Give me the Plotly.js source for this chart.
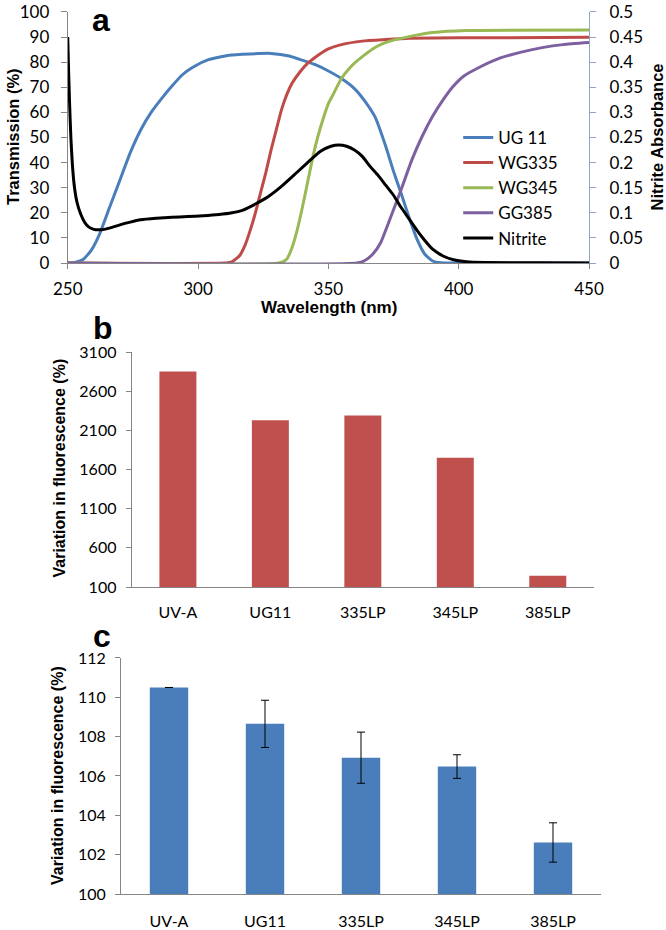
<!DOCTYPE html>
<html>
<head>
<meta charset="utf-8">
<script src="https://cdn.plot.ly/plotly-3.0.1.min.js"></script>
<style>
  body { margin: 0; background: #fff; }
  #chart { width: 666px; height: 930px; }
</style>
</head>
<body>
<div id="chart"></div>
<script>
// panel a: filter transmission (%) vs wavelength (nm)
var ug11Wl = [250, 253, 256, 259, 262, 266, 270, 274, 278, 282, 286, 290, 294, 298, 304, 312, 320, 328, 335, 340, 345, 350, 355, 360, 364, 368, 372, 375, 378, 381, 384, 387, 390, 393, 400, 450];
var ug11T = [0, 0.3, 1.5, 5, 11, 22, 33, 44, 53, 60, 65.5, 70.5, 75, 78, 81, 82.8, 83.3, 83.5, 82.5, 80.8, 79, 76.5, 73.5, 69.5, 64.5, 58, 46.5, 36.5, 27.5, 18, 9.5, 3.5, 0.8, 0.1, 0, 0];

var wg335Wl = [250, 310, 313, 316, 318, 320, 322, 324, 326, 328, 330, 332, 334, 336, 339, 342, 345, 350, 355, 363, 372, 381, 400, 450];
var wg335T = [0, 0, 0.5, 3, 7, 13, 20, 28, 36, 45, 53, 61, 67, 71.5, 76, 79.5, 82, 85.3, 87, 88.4, 89, 89.5, 89.7, 89.9];

var wg345Wl = [250, 331, 334, 336, 338, 340, 342, 344, 346, 348, 350, 352, 355, 358, 361, 364, 367, 370, 374, 381, 390, 403, 450];
var wg345T = [0, 0, 1.5, 6, 13, 22, 32, 42, 50.5, 57.5, 63.5, 67.5, 73.5, 77.5, 80.5, 83, 85.3, 87, 88.5, 90.2, 91.8, 92.6, 92.8];

var gg385Wl = [250, 361, 364, 367, 370, 374, 378, 382, 386, 390, 394, 398, 402, 408, 416, 424, 432, 440, 450];
var gg385T = [0, 0, 1, 3.5, 8, 18.5, 29.5, 41, 50.5, 58.5, 65, 70.5, 74.5, 78, 81.7, 84, 85.8, 87, 87.8];

// nitrite absorbance (right axis)
var nitriteWl = [250, 250.3, 250.7, 251.2, 251.8, 252.6, 253.6, 255, 256.5, 258, 260, 262, 264, 267, 270, 274, 278, 284, 290, 296, 302, 308, 313, 317, 322, 327, 332, 337, 342, 347, 351, 354, 357, 360, 363, 366, 369, 372, 375, 378, 381, 384, 387, 390, 394, 398, 403, 410, 430, 450];
var nitriteA = [0.45, 0.39, 0.32, 0.25, 0.195, 0.15, 0.12, 0.097, 0.081, 0.072, 0.067, 0.066, 0.067, 0.071, 0.076, 0.0815, 0.086, 0.089, 0.091, 0.0925, 0.094, 0.0965, 0.10, 0.105, 0.1175, 0.1325, 0.1525, 0.176, 0.20, 0.2225, 0.2325, 0.235, 0.2325, 0.225, 0.2125, 0.1925, 0.175, 0.155, 0.135, 0.11, 0.0875, 0.065, 0.045, 0.0275, 0.014, 0.0065, 0.0025, 0.001, 0.0005, 0];

// panels b and c
var filters = ['UV-A', 'UG11', '335LP', '345LP', '385LP'];
var fluoB = [2850, 2230, 2290, 1750, 245];
var fluoC = [110.5, 108.65, 106.93, 106.48, 102.62];
var fluoCErr = [0, 1.2, 1.3, 0.6, 1.0];

var tickFont = 'Lato, sans-serif';
var boldFont = '"Liberation Sans", Arial, sans-serif';
var axisGrey = '#868686';

function filterLine(name, x, y, color) {
	return {
		x: x, y: y, name: name,
		type: 'scatter', mode: 'lines',
		xaxis: 'x', yaxis: 'y',
		line: { color: color, width: 3, shape: 'spline', smoothing: 0.5 }
	};
}

// text placed by pixel position from the top-left corner
function label(text, px, py, size, angle) {
	return {
		text: text, x: px / 666, y: 1 - py / 930,
		xref: 'paper', yref: 'paper', xanchor: 'center', yanchor: 'middle',
		showarrow: false, textangle: angle || 0,
		font: { family: boldFont, size: size, color: '#000' }
	};
}

var data = [
	filterLine('UG 11', ug11Wl, ug11T, '#4A7EBB'),
	filterLine('WG335', wg335Wl, wg335T, '#BE4B48'),
	filterLine('WG345', wg345Wl, wg345T, '#98B954'),
	filterLine('GG385', gg385Wl, gg385T, '#7D60A0'),
	{
		x: nitriteWl, y: nitriteA, name: 'Nitrite',
		type: 'scatter', mode: 'lines',
		xaxis: 'x', yaxis: 'y2',
		line: { color: '#000000', width: 3, shape: 'spline', smoothing: 0.5 }
	},
	{
		x: filters, y: fluoB, type: 'bar',
		xaxis: 'x2', yaxis: 'y3', showlegend: false,
		marker: { color: '#C0504D' }
	},
	{
		x: filters, y: fluoC, type: 'bar',
		xaxis: 'x3', yaxis: 'y4', showlegend: false,
		marker: { color: '#4A7EBB' },
		error_y: { type: 'data', array: fluoCErr, visible: true, color: '#000', thickness: 1, width: 4 }
	}
];

var layout = {
	width: 666,
	height: 930,
	margin: { l: 0, r: 0, t: 0, b: 0 },
	paper_bgcolor: '#fff',
	plot_bgcolor: 'rgba(0,0,0,0)',
	font: { family: tickFont, size: 17, color: '#000' },
	bargap: 0.6,
	showlegend: true,
	legend: {
		x: 0.688, y: 0.871, xanchor: 'left', yanchor: 'top',
		bgcolor: 'rgba(0,0,0,0)',
		font: { family: tickFont, size: 17, color: '#000' },
		tracegroupgap: 0
	},
	// panel a
	xaxis: {
		domain: [0.1017, 0.8844], anchor: 'y',
		range: [250, 450], tickvals: [250, 300, 350, 400, 450],
		showgrid: false, zeroline: false,
		showline: true, linecolor: axisGrey, linewidth: 1,
		ticks: 'outside', ticklen: 5, tickcolor: axisGrey,
		ticklabelstandoff: 6,
		tickfont: { family: tickFont, size: 17 }
	},
	yaxis: {
		domain: [0.7172, 0.9871], anchor: 'x',
		range: [0, 100], dtick: 10,
		showgrid: false, zeroline: false,
		showline: true, linecolor: axisGrey, linewidth: 1,
		ticks: 'outside', ticklen: 6, tickcolor: axisGrey,
		ticklabelstandoff: 8,
		tickfont: { family: tickFont, size: 17 }
	},
	yaxis2: {
		overlaying: 'y', side: 'right', anchor: 'x',
		range: [0, 0.5], dtick: 0.05,
		showgrid: false, zeroline: false,
		showline: true, linecolor: '#8EA5C8', linewidth: 1,
		ticks: 'outside', ticklen: 6, tickcolor: '#8EA5C8',
		ticklabelstandoff: 10,
		tickfont: { family: tickFont, size: 17 }
	},
	// panel b
	xaxis2: {
		domain: [0.1977, 0.8919], anchor: 'y3',
		showgrid: false, zeroline: false,
		showline: true, linecolor: axisGrey, linewidth: 1,
		ticks: '', ticklabelstandoff: 11,
		tickfont: { family: tickFont, size: 16 }
	},
	yaxis3: {
		domain: [0.3688, 0.6215], anchor: 'x2',
		range: [100, 3100], tickvals: [100, 600, 1100, 1600, 2100, 2600, 3100],
		showgrid: false, zeroline: false,
		showline: true, linecolor: axisGrey, linewidth: 1,
		ticks: 'outside', ticklen: 5, tickcolor: axisGrey,
		ticklabelstandoff: 6,
		tickfont: { family: tickFont, size: 16 }
	},
	// panel c
	xaxis3: {
		domain: [0.1817, 0.9024], anchor: 'y4',
		showgrid: false, zeroline: false,
		showline: true, linecolor: axisGrey, linewidth: 1,
		ticks: '', ticklabelstandoff: 13,
		tickfont: { family: tickFont, size: 16 }
	},
	yaxis4: {
		domain: [0.0387, 0.2925], anchor: 'x3',
		range: [100, 112], dtick: 2,
		showgrid: false, zeroline: false,
		showline: true, linecolor: axisGrey, linewidth: 1,
		ticks: 'outside', ticklen: 5, tickcolor: axisGrey,
		ticklabelstandoff: 6,
		tickfont: { family: tickFont, size: 16 }
	},
	annotations: [
		label('<b>a</b>', 101, 20, 32),
		label('<b>b</b>', 103, 328, 32),
		label('<b>c</b>', 102, 636, 32),
		label('<b>Transmission (%)</b>', 13, 137, 16.5, -90),
		label('<b>Nitrite Absorbance</b>', 657, 137.5, 16.5, -90),
		label('<b>Wavelength (nm)</b>', 329, 307, 17),
		label('<b>Variation in fluorescence (%)</b>', 59, 468.5, 16, -90),
		label('<b>Variation in fluorescence (%)</b>', 57, 776, 16, -90)
	]
};

Plotly.newPlot('chart', data, layout, { displayModeBar: false, staticPlot: true });
</script>
</body>
</html>
